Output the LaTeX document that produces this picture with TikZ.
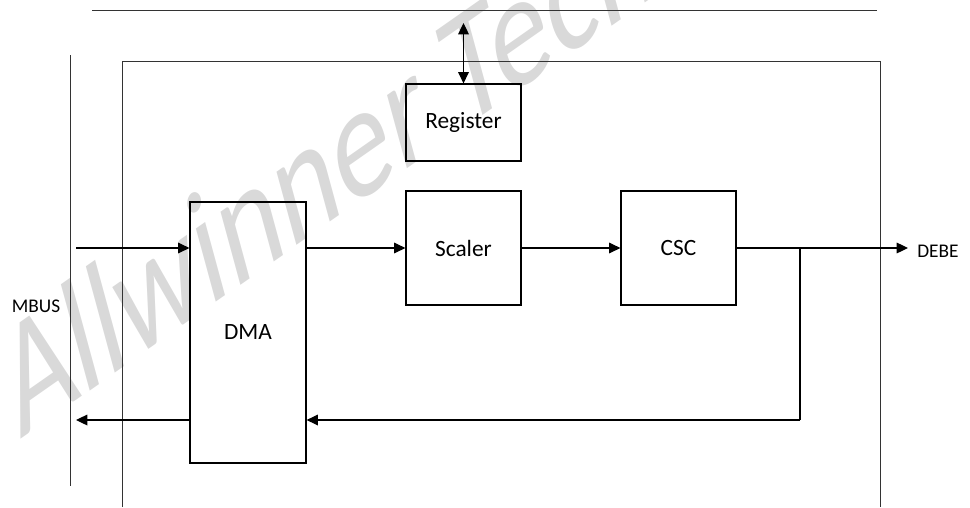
\documentclass[tikz,border=0pt]{standalone}
\usepackage{fontspec}
\setmainfont{Carlito}
\usetikzlibrary{arrows.meta,positioning,calc}

\tikzset{
  block/.style={draw, line width=0.9pt, minimum width=86.25pt, minimum height=85.5pt,
    inner sep=0pt, font=\fontsize{17.5}{21}\selectfont},
  flow/.style={line width=0.9pt, -{Triangle[length=8.5pt,width=8pt]}},
  frame/.style={line width=0.7pt, black!80},
  buslabel/.style={inner sep=0pt, font=\fontsize{14.5}{17}\selectfont},
  watermark/.style={text=black!15, font=\fontsize{112}{112}\selectfont,
    transform shape, anchor=base west, inner sep=0pt}
}

\begin{document}
\begin{tikzpicture}[x=0.75pt, y=-0.75pt]
  \useasboundingbox (0,0) rectangle (970,507);
  % watermark
  \begin{scope}[shift={(20,440)}, rotate=35, xslant=0.36, xscale=0.88]
    \node[watermark] (wm) at (0,0) {Allwinner Tech};
  \end{scope}
  % buses and frame
  \draw[frame] (92,10) -- (877,10);
  \draw[frame] (70,55) -- (70,486);
  \draw[frame] (122,507) -- (122,61) -- (880,61) -- (880,507);
  % blocks
  \node[block, minimum height=57.75pt] (register) at (463.5,122.5) {Register};
  \node[block] (scaler) at (463.5,248) {Scaler};
  \node[block] (csc) at (678.5,248) {CSC};
  \node[block, minimum width=87pt, minimum height=195.75pt] (dma) at (248,332.5) {DMA};
  % labels
  \node[buslabel] (mbus) at (36,306) {MBUS};
  \node[buslabel, anchor=west] (debelbl) at (917,251) {DEBE};
  % end points
  \coordinate (regtop) at (463.5,23);
  \coordinate (busin) at (76,248);
  \coordinate (busout) at (76,420);
  \coordinate (debe) at (908,248);
  \coordinate (tap) at (800,248);
  \coordinate (loop) at (800,420);
  % data flow
  \draw[line width=0.9pt, {Triangle[length=8.5pt,width=8pt]}-{Triangle[length=8.5pt,width=8pt]}]
    (regtop) -- (register.north);
  \draw[flow] (busin) -- (busin -| dma.west);
  \draw[flow] (dma.east |- scaler.west) -- (scaler.west);
  \draw[flow] (scaler) -- (csc);
  \draw[flow] (csc.east) -- (debe);
  \draw[line width=0.9pt] (tap) -- (loop);
  \draw[flow] (loop) -- (loop -| dma.east);
  \draw[flow] (loop -| dma.west) -- (busout);
\end{tikzpicture}
\end{document}
